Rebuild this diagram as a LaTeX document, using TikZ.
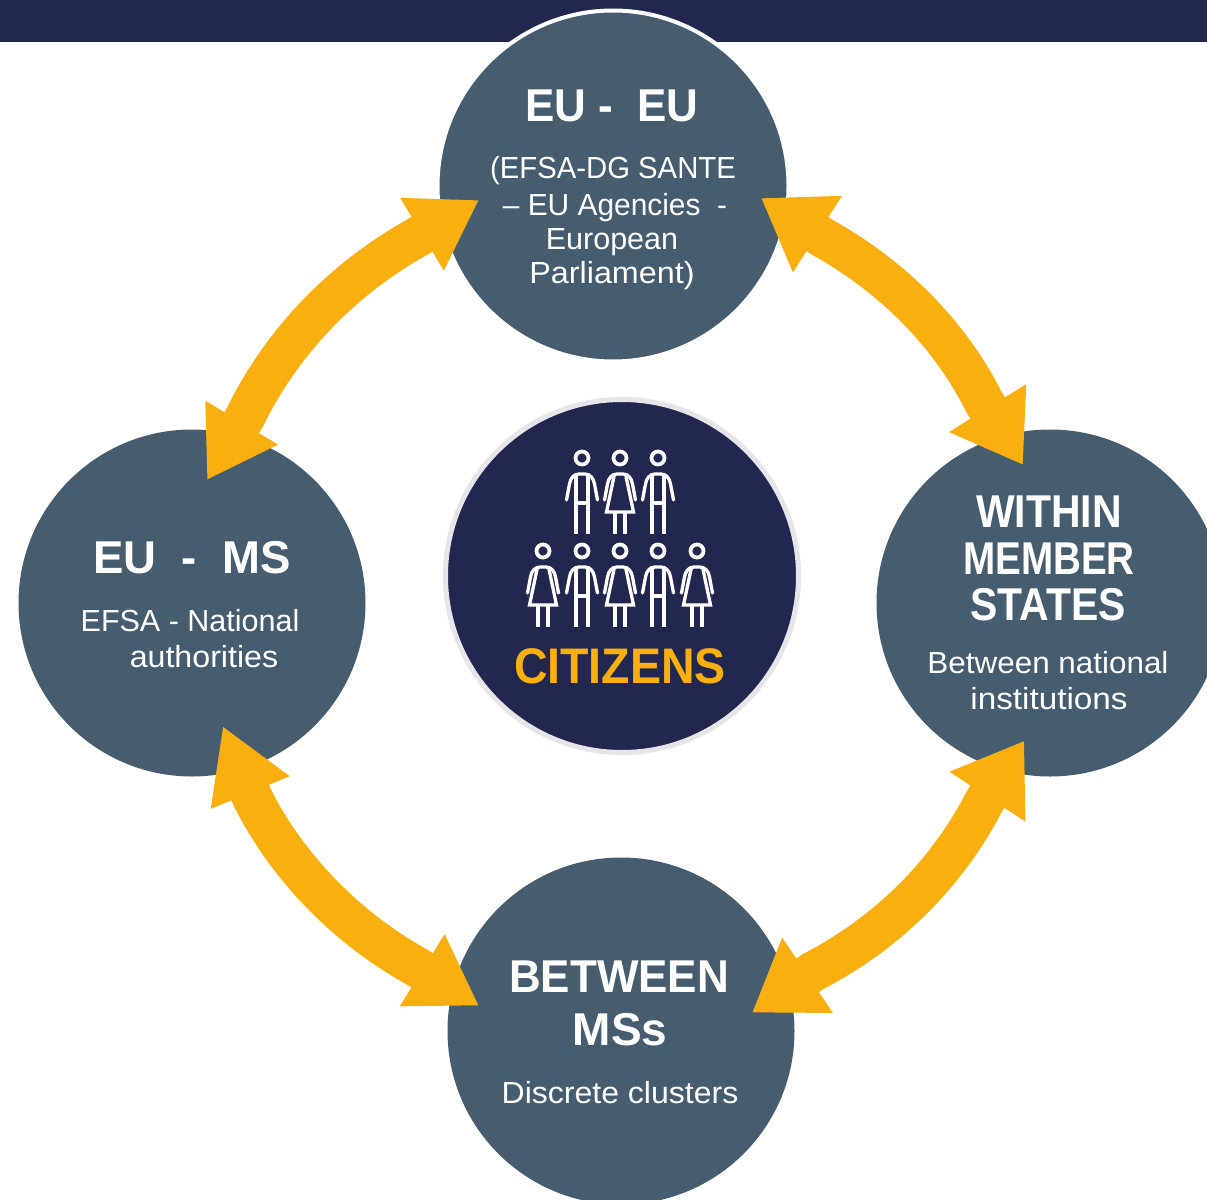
\documentclass[tikz,border=0pt]{standalone}
\usepackage{fontspec}
\setmainfont{Liberation Sans}
\usetikzlibrary{arrows.meta}
\definecolor{navy}{HTML}{21274F}
\definecolor{slate}{HTML}{465D70}
\definecolor{amber}{HTML}{FAAF10}
\definecolor{ringgrey}{HTML}{E6E6EA}
\tikzset{
  hub/.style={circle,fill=slate,minimum size=347pt,inner sep=0pt},
  title/.style={anchor=base,inner sep=0pt,text=white,font=\fontsize{46}{46}\selectfont\bfseries\addfontfeature{FakeStretch=#1}},
  title/.default=1,
  subtext/.style={anchor=base,inner sep=0pt,text=white,font=\fontsize{30.5}{30.5}\selectfont\addfontfeature{FakeStretch=#1}},
  subtext/.default=1,
  flow/.style n args={3}{draw=amber,line width=40.5pt,
    {Triangle[width=#1pt,length=#2pt,fill=amber]}-{Triangle[width=#1pt,length=#3pt,fill=amber]}},
  figline/.style={draw=white,line width=3.3pt,line cap=round,line join=round},
  personm/.pic={
    \draw[figline,line width=3.8pt] (0,0) circle (6.5);
    \draw[figline] (-15.5,42) -- (-12.5,26) .. controls (-11.5,20) and (-8,16) .. (-3,16) -- (3,16)
      .. controls (8,16) and (11.5,20) .. (12.5,26) -- (15.5,42);
    \draw[figline,line cap=butt] (-6,16) -- (-6,76) (6,16) -- (6,76) (-6,45) -- (6,45);
  },
  personf/.pic={
    \draw[figline,line width=3.8pt] (0,0) circle (6.5);
    \draw[figline] (-15.5,42) -- (-12.5,26) .. controls (-11.5,20) and (-8,16) .. (-3,16) -- (3,16)
      .. controls (8,16) and (11.5,20) .. (12.5,26) -- (15.5,42);
    \draw[figline,line cap=butt,line join=miter] (-5.5,16) -- (-13.5,54) -- (13.5,54) -- (5.5,16);
    \draw[figline,line cap=butt] (-5,54) -- (-5,76) (5,54) -- (5,76);
  }
}
\begin{document}
\begin{tikzpicture}[x=1pt,y=-1pt]
\useasboundingbox (0,0) rectangle (1207,1199);
\fill[navy] (0,0) rectangle (1207,42);

\node[hub,draw=white,line width=4pt,minimum size=351pt] (top) at (613,186) {};
\node[hub] (left) at (192,603) {};
\node[hub] (right) at (1050,603) {};
\node[hub] (bottom) at (621,1031) {};
\node[circle,fill=navy,draw=ringgrey,line width=5pt,minimum size=353pt,inner sep=0pt] (centre) at (622,576) {};

% connectors
\coordinate (tl) at (479,200);      \coordinate (lt) at (207,480);
\coordinate (tr) at (761,198);      \coordinate (rt) at (1023,465);
\coordinate (rb) at (1024.3,740.7); \coordinate (br) at (752,1012.7);
\coordinate (lb) at (222.7,726);    \coordinate (bl) at (479,1005.7);
\draw[flow={80}{66.5}{67}] (tl) -- (416.4,237.6) .. controls (342.7,279) and (282.2,341) .. (245.1,416.9) -- (lt);
\draw[flow={86}{67}{67}] (tr) -- (823,237.7) .. controls (891.5,276.1) and (949.1,332.3) .. (984.5,403) -- (rt);
\draw[flow={86}{67}{67}] (rb) -- (984,802) .. controls (946.1,875.5) and (885.6,933.9) .. (813,971.6) -- (br);
\draw[flow={80}{72}{67}] (lb) -- (252.5,798) .. controls (287.8,868.1) and (347.8,928.7) .. (416.6,966.8) -- (bl);

% people
\foreach \n/\x/\k in {a/582/personm,b/620/personf,c/658/personm}
  \pic (p\n) at (\x,458) {\k};
\foreach \n/\x/\k in {d/543/personf,e/582/personm,f/620/personf,g/658/personm,h/697/personf}
  \pic (p\n) at (\x,551) {\k};

% texts
\node[title=.955] (t1) at (612,121) {EU -\ \ EU};
\node[subtext=.96] (t1a) at (613,178) {(EFSA-DG SANTE};
\node[subtext=.98] (t1b) at (615,215) {– EU Agencies\ \ -};
\node[subtext] (t1c) at (612,249) {European};
\node[subtext=1.06] (t1d) at (612,283) {Parliament)};

\node[title=.99] (t2) at (192,573) {EU\ \ -\ \ MS};
\node[subtext] (t2a) at (190,631) {EFSA - National};
\node[subtext=1.055] (t2b) at (204,667) {authorities};

\node[title=.89] (t3a) at (1049,527) {WITHIN};
\node[title=.84] (t3b) at (1049,574) {MEMBER};
\node[title=.89] (t3c) at (1048,620) {STATES};
\node[subtext=1.03] (t3d) at (1048,673) {Between national};
\node[subtext=1.09] (t3e) at (1049,709) {institutions};

\node[title=.956] (t4a) at (619,992) {BETWEEN};
\node[title] (t4b) at (620,1045) {MSs};
\node[subtext=1.05] (t4c) at (620,1103) {Discrete clusters};

\node[anchor=base,inner sep=0pt,text=amber,font=\fontsize{50}{50}\selectfont\bfseries\addfontfeature{FakeStretch=.93}] (cit) at (620,683) {CITIZENS};
\end{tikzpicture}
\end{document}
